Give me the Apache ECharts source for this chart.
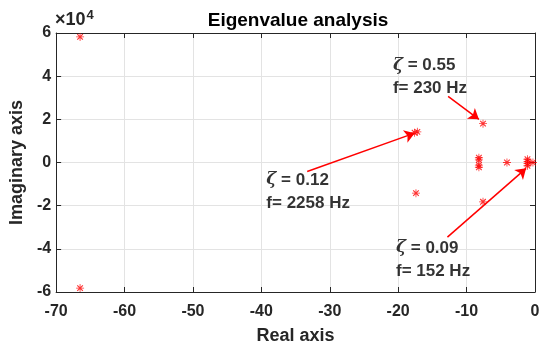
<!DOCTYPE html>
<html><head><meta charset="utf-8">
<script src="https://cdn.jsdelivr.net/npm/echarts@6/dist/echarts.min.js"></script>
<style>html,body{margin:0;padding:0;background:#fff}#c{width:550px;height:352px}</style>
</head><body><div id="c"></div>
<script>
// Eigenvalues: real part, imaginary part (x 1e4)
const realParts = [-66.5, -66.5, -17.6, -17.2, -17.4, -7.6, -7.6, -8.2, -8.2, -8.2, -8.2, -4.1, -1.1, -1.1, -1.1, -1.1, -0.3];
const imagParts = [5.82, -5.82, 1.38, 1.42, -1.42, 1.8, -1.82, 0.22, 0.12, -0.12, -0.22, 0.0, 0.15, 0.05, -0.05, -0.15, 0.0];
const xTicks = [-70, -60, -50, -40, -30, -20, -10, 0];
const yTicks = [-6, -4, -2, 0, 2, 4, 6];
// annotations: text anchor (real, imag) and arrow start/end
const annText = ['{z|ζ} = 0.55\nf= 230 Hz', '{z|ζ} = 0.12\nf= 2258 Hz', '{z|ζ} = 0.09\nf= 152 Hz'];
const annPos = [[-20.7, 5.0], [-39.2, -0.3], [-20.25, -3.45]];
const arrowFrom = [[-12.7, 3.06], [-33.3, -0.42], [-12.8, -3.46]];
const arrowTo = [[-8.2, 2.0], [-17.6, 1.36], [-1.3, -0.27]];

const starPath = 'path://M-1,-10L1,-10L1,10L-1,10Z M-10,-1L10,-1L10,1L-10,1Z M-6,-8L8,6L6,8L-8,-6Z M6,-8L8,-6L-6,8L-8,6Z';
const FONT = 'Liberation Sans, Arial, sans-serif';
const axisCol = '#262626';

const chart = echarts.init(document.getElementById('c'), null, {renderer: 'canvas'});
const xMin = xTicks[0], xMax = xTicks[xTicks.length - 1];
const yMin = yTicks[0], yMax = yTicks[yTicks.length - 1];
chart.setOption({
  animation: false,
  backgroundColor: '#fff',
  title: {
    text: 'Eigenvalue analysis', left: 293, top: 6, textAlign: 'center',
    textStyle: {fontFamily: FONT, fontWeight: 'bold', fontSize: 19, color: '#000'}
  },
  grid: {left: 52, right: 15, top: 33, bottom: 60, containLabel: false},
  xAxis: [{
    type: 'value', min: xMin, max: xMax, interval: 10,
    name: 'Real axis', nameLocation: 'middle', nameGap: 35,
    nameTextStyle: {fontFamily: FONT, fontWeight: 'bold', fontSize: 18, color: '#262626'},
    axisLine: {show: true, onZero: false, lineStyle: {color: axisCol, width: 1}},
    axisTick: {show: true, inside: true, length: 5, lineStyle: {color: axisCol}},
    axisLabel: {margin: 12, fontFamily: FONT, fontWeight: 'bold', fontSize: 16, color: '#262626'},
    splitLine: {show: true, lineStyle: {color: '#e3e3e3', width: 1}}
  }, {
    type: 'value', position: 'top', min: xMin, max: xMax, interval: 10,
    axisLine: {show: true, onZero: false, lineStyle: {color: axisCol, width: 1}},
    axisTick: {show: true, inside: true, length: 5, lineStyle: {color: axisCol}},
    axisLabel: {show: false}, splitLine: {show: false}
  }],
  yAxis: [{
    type: 'value', min: yMin, max: yMax, interval: 2,
    name: 'Imaginary axis', nameLocation: 'middle', nameGap: 25,
    nameTextStyle: {fontFamily: FONT, fontWeight: 'bold', fontSize: 18, color: '#262626'},
    axisLine: {show: true, onZero: false, lineStyle: {color: axisCol, width: 1}},
    axisTick: {show: true, inside: true, length: 5, lineStyle: {color: axisCol}},
    axisLabel: {margin: 5, fontFamily: FONT, fontWeight: 'bold', fontSize: 16, color: '#262626'},
    splitLine: {show: true, lineStyle: {color: '#e3e3e3', width: 1}}
  }, {
    type: 'value', position: 'right', min: yMin, max: yMax, interval: 2,
    axisLine: {show: true, onZero: false, lineStyle: {color: axisCol, width: 1}},
    axisTick: {show: true, inside: true, length: 5, lineStyle: {color: axisCol}},
    axisLabel: {show: false}, splitLine: {show: false}
  }],
  graphic: [{
    type: 'text', left: 55, top: 9,
    style: {
      text: '×10{s|4}', fill: '#262626',
      font: 'bold 18px ' + FONT,
      rich: {s: {fontSize: 13, fontWeight: 'bold', fontFamily: FONT, verticalAlign: 'top', padding: [0, 0, 9, 1]}}
    }
  }],
  series: [{
    type: 'scatter', xAxisIndex: 0, yAxisIndex: 0,
    symbol: starPath, symbolSize: 8,
    itemStyle: {color: '#ff0000'},
    data: realParts.map((r, i) => [r, imagParts[i]]),
    markLine: {
      silent: true, symbol: ['none', 'arrow'], symbolSize: 10,
      label: {show: false},
      lineStyle: {color: '#ff0000', width: 1.5, type: 'solid'},
      itemStyle: {color: '#ff0000'},
      data: arrowFrom.map((f, i) => [{coord: f}, {coord: arrowTo[i]}])
    },
    z: 3
  }, {
    type: 'scatter', xAxisIndex: 0, yAxisIndex: 0,
    symbol: 'circle', symbolSize: 1, silent: true,
    itemStyle: {color: 'rgba(0,0,0,0)'},
    data: annPos.map((p, i) => ({value: p, label: {formatter: annText[i]}})),
    label: {
      show: true, position: [0, 0], align: 'left', verticalAlign: 'top',
      fontFamily: FONT, fontWeight: 'bold', fontSize: 17, lineHeight: 23, color: '#000',
      rich: {z: {fontFamily: 'DejaVu Serif, serif', fontStyle: 'italic', fontWeight: 'bold', fontSize: 17, lineHeight: 23, color: '#000'}}
    },
    labelLayout: {hideOverlap: false},
    z: 4
  }]
});
</script></body></html>
